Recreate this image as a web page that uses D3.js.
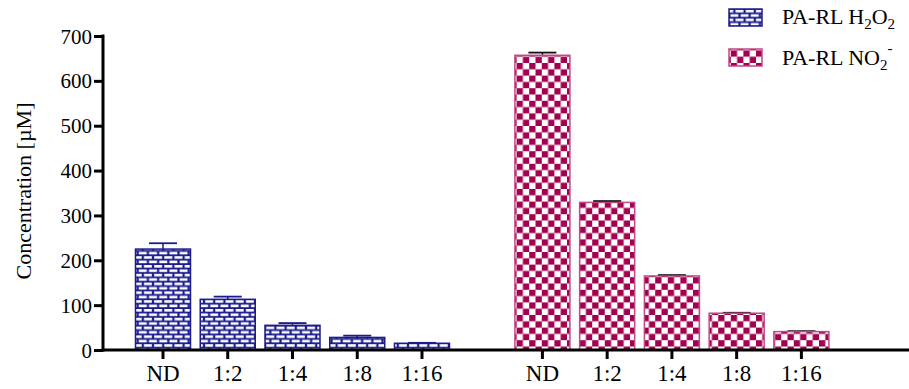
<!DOCTYPE html>
<html>
<head>
<meta charset="utf-8">
<script src="https://cdn.jsdelivr.net/npm/d3@7"></script>
<style>
  html, body { margin: 0; padding: 0; background: #fff; }
  svg text { font-family: "Liberation Serif", "Times New Roman", "DejaVu Serif", serif; fill: #000; }
</style>
</head>
<body>
<svg id="chart" width="909" height="389"></svg>
<script>
// Dilution steps shared by both assays
const dilutions = ["ND", "1:2", "1:4", "1:8", "1:16"];

// PA-RL H2O2 concentration (µM) and upper error
const h2o2Values = [225, 113, 55, 28, 15];
const h2o2Errors = [13, 6, 5, 4, 1];

// PA-RL NO2- concentration (µM) and upper error
const no2Values = [657, 329, 165, 82, 41];
const no2Errors = [6, 3, 2, 1, 1];

// y axis ticks
const yTicks = [0, 100, 200, 300, 400, 500, 600, 700];

// slot where the second group starts on the x axis
const groupOffset = 5.86;

const serif = "'Liberation Serif', 'Times New Roman', 'DejaVu Serif', serif";
const navy = "#1b1b8c";
const crimson = "#a3004f";

const svg = d3.select("#chart");

const y = d3.scaleLinear().domain([0, 700]).range([350, 36]);
const x = d3.scaleLinear().domain([0, 4 + groupOffset]).range([163, 801.4]);
const barW = 55, capW = 28;

// fill patterns: navy brick wall and crimson checkerboard
const defs = svg.append("defs");
const bw = 10.2, bh = 8.8;
const brick = defs.append("pattern").attr("id", "brick")
  .attr("patternUnits", "userSpaceOnUse").attr("width", bw).attr("height", bh);
brick.append("rect").attr("width", bw).attr("height", bh).attr("fill", navy);
brick.append("rect").attr("x", 1.1).attr("y", 1.0).attr("width", 8).attr("height", 2.6).attr("fill", "#fff");
brick.append("rect").attr("x", -4).attr("y", 5.4).attr("width", 8).attr("height", 2.6).attr("fill", "#fff");
brick.append("rect").attr("x", 6.2).attr("y", 5.4).attr("width", 8).attr("height", 2.6).attr("fill", "#fff");

const cs = 6.3;
const checker = defs.append("pattern").attr("id", "checker")
  .attr("patternUnits", "userSpaceOnUse").attr("width", cs * 2).attr("height", cs * 2);
checker.append("rect").attr("width", cs * 2).attr("height", cs * 2).attr("fill", "#fff");
checker.append("rect").attr("width", cs).attr("height", cs).attr("fill", crimson);
checker.append("rect").attr("x", cs).attr("y", cs).attr("width", cs).attr("height", cs).attr("fill", crimson);

const series = [
  { values: h2o2Values, errors: h2o2Errors, offset: 0, fill: "url(#brick)", stroke: navy, err: navy },
  { values: no2Values, errors: no2Errors, offset: groupOffset, fill: "url(#checker)", stroke: "#c04886", err: "#111" }
];

series.forEach(s => {
  const g = svg.append("g");
  const rows = s.values.map((v, i) => ({ v, e: s.errors[i], pos: i + s.offset }));
  // error bars (upper whisker only)
  g.selectAll("line.stem").data(rows).join("line")
    .attr("x1", d => x(d.pos)).attr("x2", d => x(d.pos))
    .attr("y1", d => y(d.v)).attr("y2", d => y(d.v + d.e))
    .attr("stroke", s.err).attr("stroke-width", 1.5);
  g.selectAll("line.cap").data(rows).join("line")
    .attr("x1", d => x(d.pos) - capW / 2).attr("x2", d => x(d.pos) + capW / 2)
    .attr("y1", d => y(d.v + d.e)).attr("y2", d => y(d.v + d.e))
    .attr("stroke", s.err).attr("stroke-width", 1.8);
  g.selectAll("rect").data(rows).join("rect")
    .attr("x", d => x(d.pos) - barW / 2).attr("width", barW)
    .attr("y", d => y(d.v)).attr("height", d => y(0) - y(d.v))
    .attr("fill", s.fill).attr("stroke", s.stroke).attr("stroke-width", 1.5);
});

// y axis
const yAxis = svg.append("g").attr("transform", "translate(103,0)")
  .call(d3.axisLeft(y).tickValues(yTicks).tickSize(9).tickPadding(2).tickFormat(d3.format("d")));
yAxis.attr("font-family", serif);
yAxis.select(".domain").attr("stroke-width", 3).attr("d", `M0,${y(700) - 1.5}V${y(0) + 1.5}`);
yAxis.selectAll(".tick line").attr("stroke-width", 3);
yAxis.selectAll(".tick text").attr("font-size", 21).attr("font-family", serif).attr("dy", "0.34em");

// x axis line running to the right edge, with ticks under each bar
const xAxisG = svg.append("g");
xAxisG.append("line").attr("x1", 101.5).attr("x2", 909).attr("y1", y(0)).attr("y2", y(0))
  .attr("stroke", "#000").attr("stroke-width", 3);
const xCats = [];
series.forEach(s => dilutions.forEach((c, i) => xCats.push({ c, pos: i + s.offset })));
xAxisG.selectAll("line.tk").data(xCats).join("line")
  .attr("x1", d => x(d.pos)).attr("x2", d => x(d.pos))
  .attr("y1", y(0)).attr("y2", y(0) + 9)
  .attr("stroke", "#000").attr("stroke-width", 3);
xAxisG.selectAll("text").data(xCats).join("text")
  .attr("x", d => x(d.pos)).attr("y", 381)
  .attr("text-anchor", "middle").attr("font-size", 23).attr("font-family", serif)
  .text(d => d.c);

// y axis title
svg.append("text")
  .attr("transform", `translate(31,${(y(0) + y(700)) / 2 - 2}) rotate(-90)`)
  .attr("text-anchor", "middle").attr("font-size", 22).attr("font-family", serif)
  .text("Concentration [µM]");

// legend
const legend = svg.append("g");
legend.append("rect").attr("x", 729).attr("y", 9).attr("width", 33).attr("height", 17)
  .attr("fill", "url(#brick)").attr("stroke", navy).attr("stroke-width", 1.5);
legend.append("rect").attr("x", 729).attr("y", 49).attr("width", 33).attr("height", 17)
  .attr("fill", "url(#checker)").attr("stroke", "#c04886").attr("stroke-width", 1.5);

const t1 = legend.append("text").attr("x", 782).attr("y", 24).attr("font-size", 22).attr("font-family", serif);
t1.append("tspan").text("PA-RL H");
t1.append("tspan").attr("font-size", 15).attr("dy", 5).text("2");
t1.append("tspan").attr("dy", -5).text("O");
t1.append("tspan").attr("font-size", 15).attr("dy", 5).text("2");

const t2 = legend.append("text").attr("x", 782).attr("y", 65).attr("font-size", 22).attr("font-family", serif);
t2.append("tspan").text("PA-RL NO");
t2.append("tspan").attr("font-size", 15).attr("dy", 5).text("2");
t2.append("tspan").attr("font-size", 15).attr("dy", -17).text("-");
</script>
</body>
</html>
